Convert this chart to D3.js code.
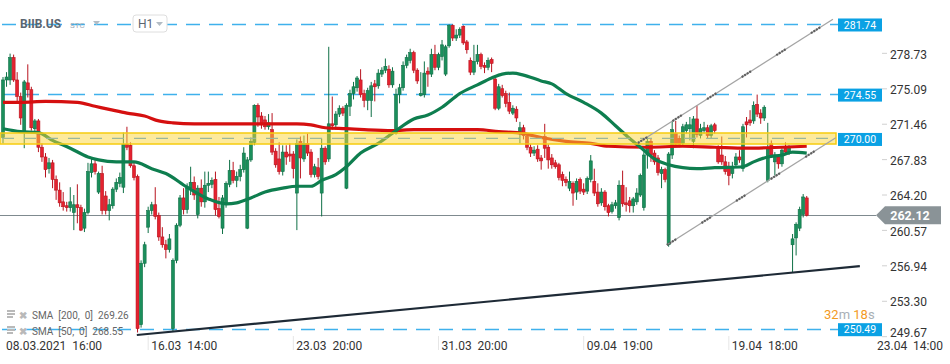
<!DOCTYPE html>
<html>
<head>
<meta charset="utf-8">
<title>BIIB.US H1</title>
<script src="https://d3js.org/d3.v7.min.js"></script>
<style>
  body { margin: 0; background: #fff; }
  text { font-family: Roboto, "Open Sans", sans-serif; }
</style>
</head>
<body>
<script>
// hourly bars, [open, high, low, close]
var bars = [
 [270.1,276.3,269.5,276.0],[276.0,276.8,275.3,276.3],[276.0,278.7,275.5,278.3],[278.3,278.6,275.8,276.0],
 [276.0,276.8,273.6,274.3],[274.3,274.7,271.4,272.1],[270.6,276.0,269.0,275.8],[275.7,277.6,274.2,275.0],
 [275.0,275.3,270.8,271.1],[271.0,272.0,270.6,271.8],[271.8,272.0,268.6,269.1],[269.1,269.5,267.6,268.1],
 [268.1,268.5,266.0,266.8],[266.9,268.0,266.4,267.5],[267.5,267.8,264.9,265.8],[265.8,266.2,263.7,264.7],
 [264.7,265.5,263.0,263.4],[263.5,264.5,262.6,263.0],[263.1,263.5,262.5,262.9],[262.9,265.0,262.5,263.5],
 [262.4,264.2,260.6,263.2],[263.2,265.3,261.3,262.9],[262.9,263.2,260.5,260.6],[260.8,262.8,260.4,262.4],
 [262.4,267.5,262.2,266.6],[266.5,268.0,266.0,267.4],[267.4,267.9,266.3,266.6],[264.5,266.6,264.3,266.4],
 [266.4,267.2,262.2,262.6],[264.1,264.6,262.2,262.6],[262.6,263.8,261.6,263.2],[263.1,265.0,262.8,264.8],
 [264.8,265.9,264.5,265.5],[265.4,266.5,265.0,266.0],[265.0,270.6,264.4,269.4],[269.4,271.2,268.8,269.1],
 [269.3,269.6,267.0,267.2],[267.2,267.6,265.7,266.0],[266.1,266.3,250.1,250.5],[250.9,257.5,250.6,257.2],
 [257.2,259.4,256.8,259.1],[260.9,263.0,260.3,262.6],[262.6,263.5,262.2,263.2],[263.2,265.0,261.7,262.0],
 [262.1,262.4,259.5,259.9],[259.9,260.9,258.8,259.1],[259.1,259.6,257.7,258.6],[258.6,260.2,258.3,259.7],
 [250.5,257.7,250.2,257.5],[257.5,261.3,257.2,261.1],[261.1,264.2,260.9,263.9],[263.9,264.9,262.2,262.7],
 [262.7,265.4,262.3,264.9],[264.9,267.1,264.2,265.5],[265.5,266.1,263.7,264.2],[262.2,265.2,261.8,264.9],
 [264.9,265.8,263.0,263.5],[263.5,266.6,262.9,265.2],[265.2,266.6,264.5,265.4],[265.3,266.0,264.9,265.7],
 [265.8,266.6,262.1,262.7],[262.8,264.0,261.8,262.0],[260.8,264.2,260.2,263.9],[263.2,265.6,262.9,265.4],
 [265.3,267.8,265.0,266.7],[266.7,267.6,265.4,265.7],[265.7,266.6,265.0,266.1],[266.1,267.3,265.6,266.8],
 [266.8,269.1,266.5,268.5],[260.8,268.1,260.7,267.8],[267.8,270.1,267.6,269.7],[269.6,273.5,269.3,273.4],
 [273.4,273.6,271.2,272.2],[272.3,272.7,271.0,271.4],[271.9,272.3,270.9,271.2],[271.2,272.5,270.9,271.6],
 [270.9,272.6,268.3,268.6],[268.7,269.0,267.0,267.3],[267.9,269.6,266.3,266.6],[266.6,269.3,266.2,268.6],
 [268.6,269.3,267.3,268.1],[268.4,269.5,267.6,268.2],[268.4,268.7,265.9,266.9],[264.4,269.9,260.6,269.5],
 [269.7,270.2,265.9,268.0],[267.9,270.3,267.6,269.5],[269.5,270.5,268.2,268.5],[268.6,268.9,266.0,266.3],
 [266.3,267.4,266.0,267.1],[267.0,268.0,265.8,266.1],[264.4,270.0,262.0,269.0],[269.0,269.2,267.3,267.6],
 [267.9,279.4,267.6,271.5],[271.5,274.3,270.9,271.3],[271.4,272.8,270.9,272.5],[272.5,273.4,272.2,273.1],
 [273.1,273.3,272.3,272.6],[264.9,273.6,264.8,273.4],[273.3,275.0,272.3,274.6],[274.6,275.8,274.0,275.3],
 [275.2,276.4,274.8,276.2],[276.0,277.1,274.2,274.5],[274.6,275.0,273.2,273.9],[273.9,275.2,272.9,274.9],
 [273.9,275.8,272.2,275.4],[275.6,276.0,273.8,275.3],[275.4,277.1,275.1,276.7],[276.6,277.3,276.3,277.0],
 [277.0,278.2,276.7,277.4],[277.1,277.5,275.2,275.5],[275.5,277.3,275.2,276.9],[270.5,275.1,270.4,274.5],
 [274.5,275.6,273.6,275.2],[275.2,277.9,274.9,277.5],[277.5,278.6,277.2,278.3],[278.0,279.2,277.7,278.8],
 [278.8,279.0,276.7,277.0],[277.0,277.2,275.6,275.9],[274.4,276.8,274.3,274.6],[274.5,277.9,274.2,276.7],
 [276.9,277.3,275.3,276.6],[276.6,279.2,276.3,278.6],[278.6,279.6,277.0,277.3],[277.3,278.8,277.0,278.6],
 [278.4,280.1,278.0,279.6],[276.6,279.6,276.4,279.4],[279.5,281.7,279.3,281.6],[281.6,281.7,280.0,280.3],
 [280.3,281.2,280.0,280.6],[280.6,281.4,280.3,281.2],[281.5,281.6,279.6,279.8],[279.9,280.1,278.7,279.1],
 [278.0,278.3,276.5,276.8],[276.8,279.6,276.5,277.9],[277.9,279.6,277.6,278.6],[278.6,278.8,277.1,277.4],
 [277.5,277.8,276.7,277.3],[277.3,278.3,277.0,278.0],[278.1,278.3,276.8,277.7],[276.1,276.4,272.9,273.1],
 [273.1,275.6,272.9,275.3],[275.1,275.5,274.2,274.4],[274.6,274.9,273.2,273.6],[273.7,274.7,272.5,272.8],
 [272.6,273.4,272.4,273.1],[273.0,273.3,271.7,272.1],[270.5,271.7,269.5,271.1],[271.1,271.4,269.9,270.3],
 [270.2,270.4,268.8,269.1],[269.1,269.4,268.1,268.5],[268.5,269.2,268.2,268.8],[268.9,269.3,267.6,267.9],
 [268.0,268.3,266.8,267.7],[270.2,271.5,268.0,269.0],[269.1,269.4,266.9,267.8],[268.0,268.4,266.9,267.3],
 [267.5,267.8,266.9,267.1],[267.3,267.5,265.7,266.0],[266.3,266.6,265.1,265.7],[265.8,266.1,265.1,265.5],
 [264.9,266.6,264.6,265.6],[265.4,265.6,263.1,264.4],[264.5,265.9,263.7,265.6],[265.8,266.0,264.3,264.6],
 [264.8,265.4,264.2,264.5],[264.6,266.1,264.3,265.9],[265.8,268.3,265.5,267.7],[265.6,266.9,264.1,264.4],
 [264.5,265.4,263.0,263.3],[263.4,264.9,263.1,264.5],[264.5,264.7,262.6,263.0],[263.1,263.3,262.0,262.4],
 [262.5,263.5,262.3,263.2],[263.1,263.7,262.8,263.4],[261.9,265.7,261.6,265.2],[265.2,266.7,263.0,263.3],
 [263.4,265.0,262.5,263.2],[263.6,264.0,262.4,263.1],[263.1,264.0,262.4,263.8],[263.5,264.9,263.2,264.4],
 [264.2,266.4,264.0,266.2],[262.9,268.6,262.6,268.3],[268.3,270.2,266.9,269.7],[269.7,270.0,267.6,268.3],
 [268.5,268.8,267.3,267.6],[268.0,268.3,266.2,266.5],[266.4,267.1,264.9,266.8],[266.8,267.0,265.5,265.8],
 [259.1,268.6,258.9,268.4],[268.3,271.8,267.9,270.9],[270.5,271.8,269.1,269.4],[270.0,270.3,269.1,269.4],
 [269.5,271.5,269.2,271.2],[270.8,271.7,270.5,271.4],[271.0,272.2,269.8,271.4],[269.7,272.3,269.0,272.0],
 [272.0,273.4,270.1,270.4],[270.3,271.5,270.0,271.0],[270.8,271.7,270.5,271.1],[271.1,271.4,270.0,270.3],
 [270.3,271.5,270.0,271.3],[271.4,271.6,270.5,270.8],[269.1,269.3,267.4,267.6],[268.3,270.2,267.3,267.6],
 [267.6,268.2,266.3,266.6],[267.1,267.6,265.2,266.2],[266.4,267.6,265.9,267.1],[267.3,268.5,267.0,268.1],
 [268.1,268.8,267.5,267.8],[266.9,271.5,266.6,271.2],[271.7,272.2,270.1,271.4],[271.9,272.9,271.3,271.6],
 [271.8,273.8,271.5,273.4],[273.5,274.5,272.2,272.5],[272.6,273.0,271.5,272.1],[272.1,273.4,271.8,273.2],
 [265.7,271.6,265.5,269.1],[269.5,269.8,268.0,268.3],[267.6,268.6,266.2,268.3],[268.1,268.4,266.9,267.4],
 [267.4,269.0,267.1,268.8],[269.0,269.6,268.3,268.6],[268.6,269.3,268.3,269.1],[259.1,260.2,256.3,259.7],
 [259.8,261.4,258.0,261.2],[260.8,263.0,260.5,262.7],[262.2,264.3,261.9,264.0],[263.9,264.1,262.0,262.12]
];

// moving averages: [bar index, value]
var sma200 = [[0,273.7],[5,273.7],[12,273.8],[21,273.7],[26,273.3],[31,272.9],[35,272.6],[40,272.3],
  [44,271.8],[48,271.6],[54,271.5],[83,271.5],[87,271.4],[91,271.1],[97,271.0],[102,270.9],[110,270.8],
  [116,270.9],[134,270.9],[140,270.7],[147,270.5],[152,270.1],[159,269.7],[166,269.5],[171,269.2],
  [182,269.1],[192,269.2],[201,269.1],[210,269.0],[220,269.1],[227,269.2]];
var sma50 = [[0,271.0],[5,270.7],[10,270.6],[14,269.8],[19,269.0],[24,268.1],[27,267.8],[32,267.6],
  [37,267.6],[42,266.9],[46,266.4],[52,265.0],[58,263.8],[63,263.3],[66,263.4],[70,263.9],[74,264.5],
  [79,264.9],[83,265.1],[87,265.1],[90,265.7],[94,266.3],[97,267.1],[101,268.5],[106,269.5],[111,270.8],
  [116,272.0],[120,272.4],[124,273.2],[129,274.6],[134,275.5],[138,276.2],[141,276.6],[144,276.7],
  [147,276.5],[152,275.9],[155,275.6],[159,274.6],[164,273.7],[169,272.6],[173,271.3],[177,270.0],
  [181,268.8],[184,267.9],[188,267.3],[192,267.0],[196,266.9],[201,267.0],[209,267.1],[212,267.6],
  [216,268.1],[220,268.3],[223,268.6],[227,268.5]];

var priceTicks = [278.73, 275.09, 271.46, 267.83, 264.20, 260.57, 256.94, 253.30, 249.67];
var timeTicks = [[0, "08.03.2021  16:00"], [41, "16.03  14:00"], [82, "23.03  20:00"], [123, "31.03  20:00"],
  [164, "09.04  19:00"], [205, "19.04  18:00"], [246, "23.04  14:00"]];
var blueLevels = [281.74, 274.55, 250.49];
var zoneLevel = 270.00, zoneBand = [269.43, 270.56];
var lastPrice = 262.12;
var supportLine = [[37.8, 249.84], [242, 256.9]];
var channelUpper = [[179.3, 269.53], [234.4, 282.23]];
var channelLower = [[187.5, 259.07], [235.2, 270.08]];
var legendRows = [["SMA  [200,  0]  ", "269.26"], ["SMA  [50,  0]  ", "268.55"]];

var width = 950, height = 364, plotRight = 836, plotBottom = 340;

var x = d3.scaleLinear().domain([0, 246]).range([3, 874]);
var y = d3.scaleLinear().domain([249.33, 284.2]).range([340, 0]);

var svg = d3.select("body").append("svg")
    .attr("width", width)
    .attr("height", height)
    .style("display", "block");

svg.append("defs").append("clipPath").attr("id", "plot")
    .append("rect").attr("x", 0).attr("y", 0).attr("width", plotRight).attr("height", plotBottom);

// blue horizontal levels
svg.append("g").selectAll("line")
    .data(blueLevels)
    .enter().append("line")
    .attr("x1", 2).attr("x2", 838)
    .attr("y1", function (d) { return Math.round(y(d)) + 0.5; })
    .attr("y2", function (d) { return Math.round(y(d)) + 0.5; })
    .style("stroke", "#3fb1ec")
    .style("stroke-width", 1.3)
    .style("stroke-dasharray", "14,9");

// last price line
svg.append("line")
    .attr("x1", 0).attr("x2", 876)
    .attr("y1", Math.round(y(lastPrice)) + 0.5).attr("y2", Math.round(y(lastPrice)) + 0.5)
    .style("stroke", "#7f8a8f").style("stroke-width", 1);

// candles
var candles = svg.append("g").attr("clip-path", "url(#plot)")
    .selectAll("g")
    .data(bars)
    .enter().append("g");

candles.append("line")
    .attr("x1", function (d, i) { return x(i); })
    .attr("x2", function (d, i) { return x(i); })
    .attr("y1", function (d) { return y(d[1]); })
    .attr("y2", function (d) { return y(d[2]); })
    .style("stroke", function (d) { return d[3] >= d[0] ? "#0f7046" : "#b8141f"; })
    .style("stroke-width", 1);

candles.append("rect")
    .attr("x", function (d, i) { return x(i) - 1.5; })
    .attr("width", 3)
    .attr("y", function (d) { return y(Math.max(d[0], d[3])); })
    .attr("height", function (d) { return Math.max(1, Math.abs(y(d[0]) - y(d[3]))); })
    .style("fill", function (d) { return d[3] >= d[0] ? "#1b8f5c" : "#e5222f"; })
    .style("stroke", function (d) { return d[3] >= d[0] ? "#0f7046" : "#b8141f"; })
    .style("stroke-width", 0.6);

// moving averages
var smaLine = d3.line()
    .x(function (d) { return x(d[0]); })
    .y(function (d) { return y(d[1]); })
    .curve(d3.curveMonotoneX);

svg.append("path").datum(sma200)
    .attr("d", smaLine)
    .style("fill", "none").style("stroke", "#d50f0f").style("stroke-width", 3.2)
    .style("stroke-linejoin", "round");
svg.append("path").datum(sma50)
    .attr("d", smaLine)
    .style("fill", "none").style("stroke", "#0e7e4f").style("stroke-width", 3.2)
    .style("stroke-linejoin", "round");

// yellow zone
svg.append("rect")
    .attr("x", 0).attr("width", 836)
    .attr("y", y(zoneBand[1])).attr("height", y(zoneBand[0]) - y(zoneBand[1]))
    .style("fill", "#fcd63a").style("fill-opacity", 0.5)
    .style("stroke", "#f6cc0f").style("stroke-width", 1.5);
svg.append("line")
    .attr("x1", 2).attr("x2", 834)
    .attr("y1", y(zoneLevel)).attr("y2", y(zoneLevel))
    .style("stroke", "#9cb79a").style("stroke-width", 1.2)
    .style("stroke-dasharray", "12,10");

// drawn trend lines
svg.append("line")
    .attr("x1", x(supportLine[0][0])).attr("y1", y(supportLine[0][1]))
    .attr("x2", x(supportLine[1][0])).attr("y2", y(supportLine[1][1]))
    .style("stroke", "#1e2a36").style("stroke-width", 2.2);

[channelUpper, channelLower].forEach(function (c) {
    svg.append("line")
        .attr("x1", x(c[0][0])).attr("y1", y(c[0][1]))
        .attr("x2", x(c[1][0])).attr("y2", y(c[1][1]))
        .style("stroke", "#a4a4a4").style("stroke-width", 1.3);
    svg.append("line")
        .attr("x1", x(c[0][0])).attr("y1", y(c[0][1]))
        .attr("x2", x(c[1][0])).attr("y2", y(c[1][1]))
        .style("stroke", "#5f5f5f").style("stroke-width", 2.2)
        .style("stroke-dasharray", "2,1,2,1,2,1,2,30");
});

// right price axis
var axisG = svg.append("g");
axisG.selectAll("line")
    .data(priceTicks)
    .enter().append("line")
    .attr("x1", 882).attr("x2", 887)
    .attr("y1", function (d) { return y(d); }).attr("y2", function (d) { return y(d); })
    .style("stroke", "#d0d0d0");
axisG.selectAll("text")
    .data(priceTicks)
    .enter().append("text")
    .attr("x", 890)
    .attr("y", function (d) { return Math.min(y(d) + 1, 333); })
    .attr("dy", "0.35em")
    .style("font-size", "12px").style("fill", "#333")
    .text(function (d) { return d.toFixed(2); });

// time axis
var timeG = svg.append("g");
timeG.selectAll("line")
    .data(timeTicks.slice(1, 6))
    .enter().append("line")
    .attr("x1", function (d) { return x(d[0]); }).attr("x2", function (d) { return x(d[0]); })
    .attr("y1", 336).attr("y2", 350)
    .style("stroke", "#e6e6e6");
timeG.selectAll("text")
    .data(timeTicks)
    .enter().append("text")
    .attr("x", function (d) { return x(d[0]) + 3; })
    .attr("y", 350)
    .style("font-size", "12px").style("fill", "#333").style("white-space", "pre")
    .text(function (d) { return d[1]; });

// level labels
blueLevels.concat([zoneLevel]).forEach(function (v) {
    var cy = y(v) + 1;
    svg.append("rect")
        .attr("x", 838).attr("y", cy - 6.5).attr("width", 44).attr("height", 13)
        .style("fill", "#0aa1e4");
    svg.append("text")
        .attr("x", 860).attr("y", cy).attr("dy", "0.35em")
        .attr("text-anchor", "middle")
        .style("font-size", "10.5px").style("fill", "#fff")
        .text(v.toFixed(2));
});

var ly = y(lastPrice);
svg.append("path")
    .attr("d", "M876," + ly + "L885," + (ly - 9) + "H941V" + (ly + 9) + "H885Z")
    .style("fill", "#8a9397");
svg.append("text")
    .attr("x", 910).attr("y", ly).attr("dy", "0.36em")
    .attr("text-anchor", "middle")
    .style("font-size", "12.5px").style("font-weight", "bold").style("fill", "#fff")
    .text(lastPrice.toFixed(2));

// countdown
var cd = svg.append("text").attr("x", 824).attr("y", 319).style("font-size", "13px");
cd.append("tspan").style("fill", "#f39a1f").text("32");
cd.append("tspan").style("fill", "#a8b0b6").text("m ");
cd.append("tspan").style("fill", "#f39a1f").text("18");
cd.append("tspan").style("fill", "#a8b0b6").text("s");

// header
svg.append("text").attr("x", 20).attr("y", 28)
    .style("font-size", "12px").style("font-weight", "bold").style("fill", "#5b6570")
    .text("BIIB.US");
svg.append("text").attr("x", 70).attr("y", 28)
    .style("font-size", "8px").style("fill", "#9fabb6")
    .text("STC");
svg.append("path").attr("d", "M93,21H100L96.5,25Z").style("fill", "#b3bcc4");
svg.append("rect").attr("x", 133).attr("y", 15).attr("width", 34).attr("height", 17).attr("rx", 3)
    .style("fill", "#fff").style("stroke", "#dedede");
svg.append("text").attr("x", 138).attr("y", 28)
    .style("font-size", "12px").style("fill", "#5b6570")
    .text("H1");
svg.append("path").attr("d", "M156,22H163L159.5,26Z").style("fill", "#b3bcc4");

// indicator legend
var leg = svg.append("g").selectAll("g")
    .data(legendRows)
    .enter().append("g")
    .attr("transform", function (d, i) { return "translate(0," + (315 + i * 16) + ")"; });
leg.append("rect").attr("x", 7).attr("y", -5).attr("width", 8).attr("height", 2).style("fill", "#b9b9b9");
leg.append("rect").attr("x", 7).attr("y", -2).attr("width", 8).attr("height", 2).style("fill", "#b9b9b9");
leg.append("rect").attr("x", 7).attr("y", 1).attr("width", 6).attr("height", 2).style("fill", "#b9b9b9");
leg.append("text").attr("x", 19).attr("y", 0).attr("dy", "0.35em")
    .style("font-size", "10px").style("fill", "#b9b9b9").style("font-weight", "bold")
    .text("\u2716");
leg.append("text").attr("x", 32).attr("y", 0).attr("dy", "0.35em")
    .style("font-size", "10px").style("fill", "#666").style("white-space", "pre")
    .text(function (d) { return d[0] + d[1]; });
</script>
</body>
</html>
